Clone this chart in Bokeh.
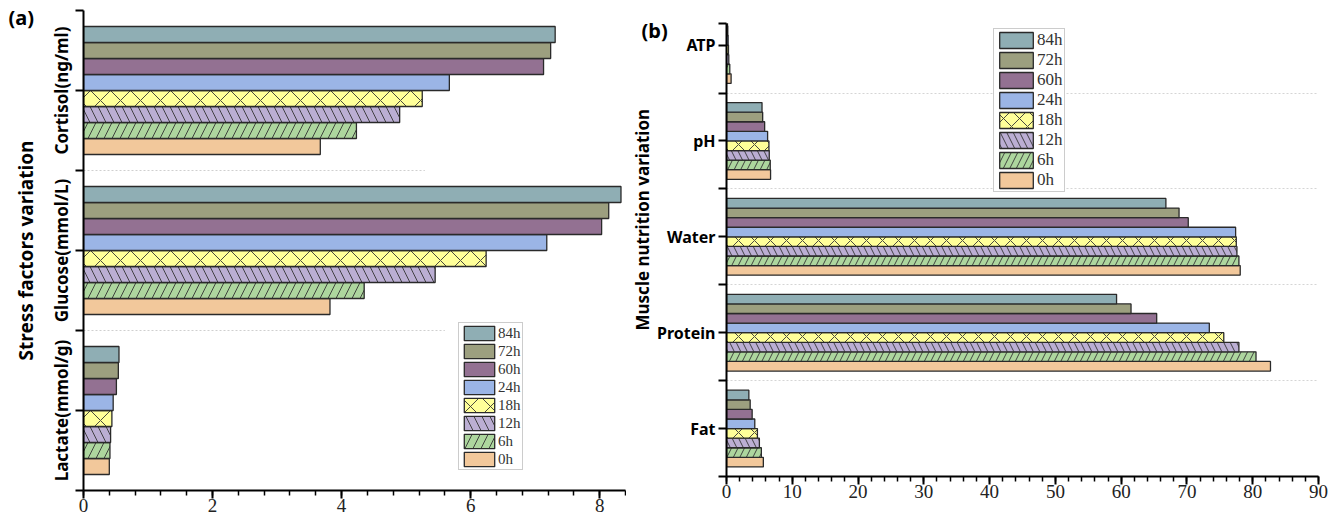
import math
from bokeh.plotting import figure
from bokeh.models import (ColumnDataSource, Legend, LegendItem, FixedTicker,
                          SingleIntervalTicker, Range1d, Title)
from bokeh.layouts import row, column
from bokeh.embed import file_html
from bokeh.resources import INLINE

# ---------------- data ----------------
series = ["0h", "6h", "12h", "18h", "24h", "60h", "72h", "84h"]

a_categories = ["Lactate(mmol/g)", "Glucose(mmol/L)", "Cortisol(ng/ml)"]
a_lactate = [0.40, 0.41, 0.42, 0.44, 0.46, 0.51, 0.54, 0.55]
a_glucose = [3.82, 4.35, 5.45, 6.24, 7.18, 8.03, 8.14, 8.33]
a_cortisol = [3.67, 4.23, 4.90, 5.25, 5.67, 7.13, 7.24, 7.31]

b_categories = ["Fat", "Protein", "Water", "pH", "ATP"]
b_fat = [5.6, 5.3, 5.0, 4.7, 4.3, 3.9, 3.6, 3.4]
b_protein = [82.7, 80.5, 77.9, 75.6, 73.4, 65.4, 61.5, 59.3]
b_water = [78.1, 77.9, 77.6, 77.5, 77.4, 70.2, 68.8, 66.8]
b_ph = [6.7, 6.65, 6.5, 6.45, 6.25, 5.8, 5.5, 5.4]
b_atp = [0.7, 0.5, 0.35, 0.3, 0.25, 0.2, 0.15, 0.1]

# ---------------- style ----------------
colors = ["#F2C89B", "#ADD69E", "#BBAED3", "#FFFF99", "#9BB5E6",
          "#937192", "#9C9F7F", "#8FAEB4"]
hatches = ["blank", "right_diagonal_line", "left_diagonal_line", "diagonal_cross",
           "blank", "blank", "blank", "blank"]
BAR_H = 0.1
BOLD_FONT = "Noto Sans"
NUM_FONT = "Liberation Serif"


def style_axes(p, x_interval, y_ticks, overrides, y_orient, cat_size):
    p.xaxis.ticker = SingleIntervalTicker(interval=x_interval, num_minor_ticks=5)
    p.xgrid.visible = False
    for ax in (p.xaxis[0], p.yaxis[0]):
        ax.axis_line_width = 2
        ax.axis_line_color = "black"
        ax.major_tick_line_width = 2
        ax.major_tick_in = 0
        ax.major_tick_out = 8
    p.xaxis.minor_tick_in = 0
    p.xaxis.minor_tick_out = 5
    p.xaxis.minor_tick_line_width = 1.5
    p.xaxis.major_label_text_font = NUM_FONT
    p.xaxis.major_label_text_font_size = "19px"
    p.xaxis.major_label_standoff = 0
    p.xaxis.major_label_text_color = "#222222"
    p.yaxis.ticker = FixedTicker(ticks=y_ticks)
    p.yaxis.minor_tick_line_color = None
    p.yaxis.major_label_overrides = overrides
    p.yaxis.major_label_text_font = BOLD_FONT
    p.yaxis.major_label_text_font_style = "bold"
    p.yaxis.major_label_text_font_size = cat_size
    p.yaxis.major_label_text_color = "black"
    p.yaxis.major_label_standoff = 3
    if y_orient is not None:
        p.yaxis.major_label_orientation = y_orient
    p.outline_line_color = None


def panel_title(p, text, offset):
    p.title.text = text
    p.title.align = "left"
    p.title.offset = offset
    p.title.standoff = -40
    p.title.vertical_align = "bottom"
    p.title.text_font = BOLD_FONT
    p.title.text_font_style = "bold"
    p.title.text_font_size = "20px"
    p.title.text_color = "black"


def add_bars(p, values_by_cat, hatch_scales, legend_loc, glyph_w, glyph_h, font_size):
    renderers = []
    ncat = len(values_by_cat)
    for k, name in enumerate(series):
        ys = [c - 0.35 + BAR_H * k for c in range(ncat)]
        vals = [values_by_cat[c][k] for c in range(ncat)]
        src = ColumnDataSource(dict(y=ys, v=vals))
        r = p.hbar(y="y", right="v", left=0, height=BAR_H, source=src,
                   fill_color=colors[k], line_color="#2a2a2a", line_width=1.3,
                   hatch_pattern=hatches[k], hatch_color="#333333",
                   hatch_weight=0.9, hatch_scale=hatch_scales[k])
        renderers.append((name, r))
    items = [LegendItem(label=n, renderers=[r]) for n, r in reversed(renderers)]
    legend = Legend(items=items, location=legend_loc, glyph_width=glyph_w,
                    glyph_height=glyph_h, label_height=glyph_h, spacing=0,
                    padding=1, margin=0, label_standoff=0,
                    label_text_font=NUM_FONT, label_text_font_size=font_size,
                    label_text_color="#333333",
                    border_line_color="#9a9a9a", border_line_width=1,
                    background_fill_color="white", background_fill_alpha=1)
    p.add_layout(legend)


# ---------------- panel (a) ----------------
pa = figure(width=626, height=517, output_backend="svg", toolbar_location=None,
            x_range=Range1d(0, 8.4), y_range=Range1d(-0.5, 2.5),
            min_border_left=83, min_border_right=1, min_border_top=10,
            min_border_bottom=27)
pa.ygrid.visible = False
a_grid_y = [0.5, 1.5]
a_grid_end = [5.6, 5.29]
pa.segment(x0=[0, 0], x1=a_grid_end, y0=a_grid_y, y1=a_grid_y,
           line_color="#cfcfcf", line_dash="2 2", line_width=1)
a_vals = [a_lactate, a_glucose, a_cortisol]
add_bars(pa, a_vals, [16, 16, 16, 20, 12, 12, 12, 12], (375, 20), 38, 18, "15px")
a_over = {-0.5: "", 0.5: "", 1.5: "", 2.5: ""}
for i, c in enumerate(a_categories):
    a_over[i] = c
style_axes(pa, 2, [-0.5, 0, 0.5, 1, 1.5, 2, 2.5], a_over, "vertical", "17px")
pa.yaxis.axis_label = "Stress factors variation"
pa.yaxis.axis_label_text_font = BOLD_FONT
pa.yaxis.axis_label_text_font_style = "bold"
pa.yaxis.axis_label_text_font_size = "19px"
pa.yaxis.axis_label_text_color = "black"
pa.yaxis.axis_label_standoff = 8
panel_title(pa, "(a)", -75)

# ---------------- panel (b) ----------------
pb = figure(width=715, height=517, output_backend="svg", toolbar_location=None,
            x_range=Range1d(0, 90), y_range=Range1d(-0.5, 4.225),
            min_border_left=100, min_border_right=23, min_border_top=23,
            min_border_bottom=41)
pb.ygrid.ticker = FixedTicker(ticks=[0.5, 1.5, 2.5, 3.5])
pb.ygrid.grid_line_color = "#d5d5d5"
pb.ygrid.grid_line_dash = "2 2"
b_vals = [b_fat, b_protein, b_water, b_ph, b_atp]
add_bars(pb, b_vals, [13, 13, 13, 16, 11, 11, 11, 11], (267, 284), 42, 20, "17px")
b_over = {-0.5: "", 0.5: "", 1.5: "", 2.5: "", 3.5: "", 4.225: ""}
for i, c in enumerate(b_categories):
    b_over[i] = c
style_axes(pb, 10, [-0.5, 0, 0.5, 1, 1.5, 2, 2.5, 3, 3.5, 4, 4.225], b_over, None, "16px")
pb.add_layout(Title(text="Muscle nutrition variation", align="left", offset=146,
                    standoff=2, text_font=BOLD_FONT, text_font_style="bold",
                    text_font_size="17px", text_color="black"), "left")
panel_title(pb, "(b)", -85)

layout = row(column(pa), column(pb))
open("out.html", "w").write(file_html(layout, INLINE))
